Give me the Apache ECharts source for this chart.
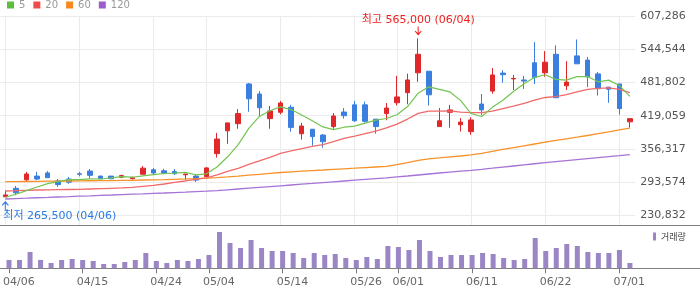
<!DOCTYPE html>
<html><head><meta charset="utf-8">
<script src="https://cdn.jsdelivr.net/npm/echarts@6/dist/echarts.min.js"></script>
<style>html,body{margin:0;padding:0;background:#fff}#c{width:700px;height:289px}</style>
</head><body><div id="c"></div>
<script>
const dates = ['04/06','04/07','04/08','04/09','04/10','04/13','04/14','04/15','04/16','04/17','04/20','04/21','04/22','04/23','04/24','04/27','04/28','04/29','04/30','05/04','05/06','05/07','05/08','05/11','05/12','05/13','05/14','05/15','05/18','05/19','05/20','05/21','05/22','05/26','05/27','05/28','05/29','06/01','06/03','06/04','06/05','06/08','06/09','06/10','06/11','06/12','06/15','06/16','06/17','06/18','06/19','06/22','06/23','06/24','06/25','06/26','06/29','06/30','07/01','07/02'];
const xTickLabels = ['04/06','04/15','04/24','05/04','05/14','05/26','06/01','06/11','06/22','07/01'];
const yTicks = [230832, 293574.4, 356316.8, 419059.2, 481801.6, 544544, 607286.4];

const openP = [266000,282000,298000,305000,311000,296000,299500,309500,314500,305000,
  305000,303000,300000,308500,317000,315000,313500,307500,305000,304000,
  347500,390500,404000,479000,460000,413500,425500,435000,385000,393500,
  382500,398500,426000,439500,439500,412500,423000,443500,462500,500000,
  503000,398500,425500,402000,389000,441000,465500,499500,488500,486500,
  519000,500000,535000,475500,532000,524000,498000,473000,479000,407500];
const closeP = [269500,273500,309000,299500,302000,289000,293500,308500,306500,300000,
  300000,306000,302000,320000,311000,310500,309500,309000,297500,320500,
  375000,405500,423000,451000,434000,428000,443000,397000,399500,379500,
  370000,418500,419000,409500,408500,398500,433500,454500,486500,535000,
  458500,409500,430000,407000,411000,430000,496000,496500,489500,484500,
  491000,520000,453000,482500,517000,492500,470000,469000,432500,413500];
const lowP = [265500,269000,294500,297500,302000,285000,290500,304500,301000,299500,
  299500,301000,299000,308500,307500,308500,307000,297000,294000,303000,
  340000,366000,394500,426500,416500,394500,421500,389000,374000,362500,
  358500,394500,413500,407500,406000,385000,410500,438500,440500,483000,
  438000,398500,396500,389000,383000,420500,460500,481500,467500,469500,
  479000,492500,453000,467500,517000,473000,457000,443500,421000,396500];
const highP = [277500,286500,313000,313000,314500,299500,303500,313000,318500,306000,
  305500,307500,304000,324000,320500,319000,318500,309000,308500,322000,
  386500,405500,431500,481000,465500,437500,447000,439500,405500,393500,
  384500,424000,433500,447000,445500,412500,443000,494500,498500,565000,
  503000,433500,439500,414500,416000,460000,509000,505000,496000,494000,
  558000,541000,552000,522000,563000,530000,501500,473000,479000,413500];
const ma5 = [265000,270700,277500,284500,290700,294600,298600,298500,299900,299500,
  301700,304200,302900,305600,307800,309900,310600,312000,307500,309400,
  322300,341500,364300,395000,417700,428300,435800,430600,420300,409400,
  397800,392900,397300,399300,405100,410800,413800,420900,436300,461600,
  473600,468800,463900,448000,423200,417500,434800,448100,464600,479300,
  491500,496300,487600,486200,492700,493000,483000,486200,476200,455500];
const ma20 = [276900,277500,278200,278800,279100,279400,279700,280000,280700,281300,
  281900,282600,283800,285700,287600,290100,293300,295800,298900,301850,
  307125,313725,319425,327000,333600,340550,348025,352450,357100,361075,
  364575,370200,376050,380525,385400,389800,396000,403275,412725,423450,
  427625,427825,428175,425975,424825,424925,427575,432550,437050,442300,
  448350,453425,455125,458775,464200,468900,470725,471450,468750,462675];
const ma60 = [294500,294600,294800,295000,295400,295600,295800,296000,296200,296300,
  296500,296900,297100,297700,298000,298400,299000,299600,300300,301100,
  302200,303500,305000,306700,308400,310100,311800,313100,314300,315400,
  316500,317700,318800,319900,321100,322200,323300,326700,330500,334700,
  337700,339400,341300,343000,344900,348100,351700,355300,358800,362200,
  365600,369000,372400,375500,378500,381700,385100,388500,392100,395800];
const ma120 = [261800,262600,263300,264100,264800,265600,266300,267100,267800,268600,
  269300,270100,270900,271600,272400,273100,273900,274600,275600,276500,
  277700,279200,280700,282200,283700,285200,286700,288200,289700,291200,
  292800,294300,295800,297300,298800,300300,301800,303500,305200,307100,
  309000,310900,312600,314300,316000,317900,319900,322000,324100,326200,
  328300,330300,332200,334100,336000,337900,339800,341700,343500,345400];
const volume = [166000,166000,326000,168000,106000,166000,186000,166000,146000,86000,
  86000,126000,166000,306000,146000,106000,166000,146000,186000,266000,
  726000,506000,406000,566000,406000,346000,346000,306000,206000,306000,
  266000,286000,206000,166000,226000,186000,446000,426000,366000,566000,
  346000,226000,266000,266000,266000,306000,286000,206000,166000,186000,
  606000,346000,406000,486000,446000,326000,306000,306000,366000,106000];

const fmt = v => String(Math.round(v)).replace(/\B(?=(\d{3})+(?!\d))/g, ',');
const xTickIdx = xTickLabels.map(d => dates.indexOf(d));
const candle = dates.map((d, i) => [i, openP[i], closeP[i], lowP[i], highP[i]]);
const pairs = arr => arr.map((v, i) => [i, v]);
const hiIdx = highP.indexOf(Math.max(...highP));
const loIdx = lowP.indexOf(Math.min(...lowP));

const UP = '#e0282a', DOWN = '#3a7fdf';
const FONT = 'DejaVu Sans';
const KFONT = '"DejaVu Sans", "Noto Sans CJK KR"';

const chart = echarts.init(document.getElementById('c'));
chart.setOption({
  animation: false,
  textStyle: { fontFamily: FONT },
  legend: [
    { left: 7, top: 0, padding: 0, itemWidth: 7, itemHeight: 7, itemGap: 8, icon: 'rect',
      textStyle: { color: '#999', fontSize: 10, fontFamily: FONT },
      data: ['5', '20', '60', '120'] },
    { left: 653, top: 232, padding: 0, itemWidth: 3, itemHeight: 8, icon: 'rect',
      textStyle: { color: '#444', fontSize: 9, fontFamily: 'Noto Sans CJK KR' },
      data: ['거래량'] }
  ],
  grid: [
    { left: 0, right: 64.8, top: 16, height: 209 },
    { left: 0, right: 64.8, top: 225, height: 43.3 }
  ],
  xAxis: [
    { type: 'value', gridIndex: 0, min: -0.5, max: 59.5,
      axisLine: { show: false }, axisTick: { show: false, customValues: xTickIdx },
      axisLabel: { show: false },
      splitLine: { show: true, lineStyle: { color: '#ebebeb' } } },
    { type: 'value', gridIndex: 1, min: -0.5, max: 59.5,
      axisLine: { show: false },
      axisTick: { show: true, customValues: xTickIdx, length: 5, lineStyle: { color: '#777' } },
      axisLabel: { customValues: xTickIdx, formatter: v => dates[Math.round(v)], color: '#666',
                   fontSize: 11, align: 'left', margin: 8, padding: [0, 0, 0, -6] },
      splitLine: { show: false } }
  ],
  yAxis: [
    { type: 'value', gridIndex: 0, position: 'right', min: 212694, max: 607286.4,
      axisLine: { show: false }, axisTick: { show: false, customValues: yTicks },
      axisLabel: { customValues: yTicks, formatter: fmt, color: '#555', fontSize: 11, margin: 5 },
      splitLine: { show: true, lineStyle: { color: '#ebebeb' } } },
    { type: 'value', gridIndex: 1, min: 0, max: 866000, show: false }
  ],
  graphic: [
    { type: 'line', silent: true, shape: { x1: 0, y1: 225.5, x2: 700, y2: 225.5 }, style: { stroke: '#808080', lineWidth: 1 } },
    { type: 'line', silent: true, shape: { x1: 0, y1: 268.5, x2: 700, y2: 268.5 }, style: { stroke: '#808080', lineWidth: 1 } }
  ],
  series: [
    { type: 'line', name: '120', xAxisIndex: 0, yAxisIndex: 0, data: pairs(ma120), symbol: 'none',
      itemStyle: { color: '#9c5ccc' }, lineStyle: { color: '#a673d6', width: 1.3 } },
    { type: 'line', name: '60', xAxisIndex: 0, yAxisIndex: 0, data: pairs(ma60), symbol: 'none',
      itemStyle: { color: '#f7891c' }, lineStyle: { color: '#f7922a', width: 1.3 } },
    { type: 'line', name: '20', xAxisIndex: 0, yAxisIndex: 0, data: pairs(ma20), symbol: 'none',
      itemStyle: { color: '#ee4b4b' }, lineStyle: { color: '#f06a6a', width: 1.3 } },
    { type: 'line', name: '5', xAxisIndex: 0, yAxisIndex: 0, data: pairs(ma5), symbol: 'none',
      itemStyle: { color: '#5bbf3a' }, lineStyle: { color: '#72c550', width: 1.2 } },
    { type: 'candlestick', name: 'price', xAxisIndex: 0, yAxisIndex: 0, data: candle, barWidth: 5,
      itemStyle: { color: UP, color0: DOWN, borderColor: UP, borderColor0: DOWN, borderWidth: 1 },
      markPoint: {
        silent: true,
        data: [
          { coord: [hiIdx, highP[hiIdx]],
            symbol: 'path://M3,0L4,0L4,6.5L6.3,4.2L7,4.9L3.5,8.9L0,4.9L0.7,4.2L3,6.5Z',
            symbolSize: [7, 9], symbolOffset: [0, -7.5], itemStyle: { color: '#f02020' },
            label: { show: true, position: 'top', distance: 1, color: '#f02020', fontSize: 11, fontFamily: KFONT,
                     formatter: '최고 ' + fmt(highP[hiIdx]) + ' (' + dates[hiIdx] + ')' } },
          { coord: [loIdx, lowP[loIdx]],
            symbol: 'path://M3,9L4,9L4,2.5L6.3,4.8L7,4.1L3.5,0.1L0,4.1L0.7,4.8L3,2.5Z',
            symbolSize: [7, 9], symbolOffset: [0, 8.5], itemStyle: { color: '#2c7be0' },
            label: { show: true, position: 'bottom', distance: 1, align: 'left', offset: [-2, 0],
                     color: '#2c7be0', fontSize: 11, fontFamily: KFONT,
                     formatter: '최저 ' + fmt(lowP[loIdx]) + ' (' + dates[loIdx] + ')' } }
        ]
      } },
    { type: 'bar', name: '거래량', xAxisIndex: 1, yAxisIndex: 1, data: pairs(volume), barWidth: 5,
      itemStyle: { color: '#9a86c5' } }
  ]
});
</script></body></html>
